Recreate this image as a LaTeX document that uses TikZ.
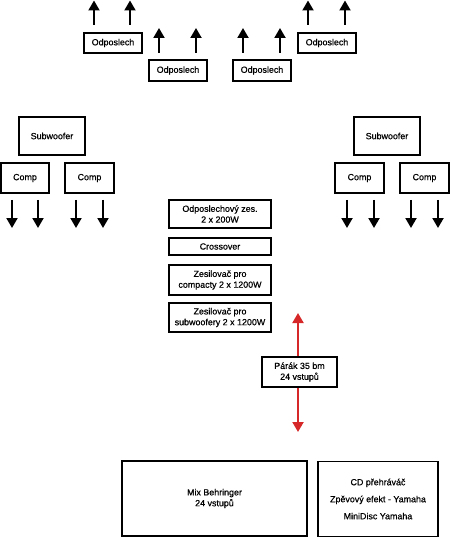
\documentclass[tikz,border=0pt]{standalone}
\usepackage{fontspec}
\setmainfont[FakeBold=0.6]{Liberation Sans}
\usetikzlibrary{arrows.meta}
\begin{document}
\begin{tikzpicture}[x=1pt,y=-1pt,
  box/.style={draw=black, line width=1.8pt, inner sep=0pt, align=center,
    font=\fontsize{8.9}{10.8}\selectfont},
  arr/.style={line width=2pt, -{Triangle[length=10pt,width=11pt]}},
  redarr/.style={draw={rgb,255:red,214;green,40;blue,40}, line width=2pt,
    -{Triangle[length=10pt,width=11pt]}}]
\useasboundingbox (0,0) rectangle (450,537);
% top monitors
\node[box, minimum width=58pt, minimum height=20pt] (o1) at (113,43) {Odposlech};
\node[box, minimum width=58pt, minimum height=21pt] (o2) at (178,70.5) {Odposlech};
\node[box, minimum width=58pt, minimum height=21pt] (o3) at (262,70.5) {Odposlech};
\node[box, minimum width=58pt, minimum height=20pt] (o4) at (327,43) {Odposlech};
\foreach \x in {94,130,308,345} \draw[arr] (\x,25) -- (\x,0.5);
\foreach \x in {159,196,243,280} \draw[arr] (\x,53) -- (\x,28);
% subwoofers
\node[box, minimum width=66pt, minimum height=38pt] (sl) at (52,136) {Subwoofer};
\node[box, minimum width=66pt, minimum height=38pt] (sr) at (387,136) {Subwoofer};
\node[box, minimum width=48pt, minimum height=30pt] (c1) at (25,178) {Comp};
\node[box, minimum width=49pt, minimum height=30pt] (c2) at (89.5,178) {Comp};
\node[box, minimum width=49pt, minimum height=30pt] (c3) at (359.5,178) {Comp};
\node[box, minimum width=49pt, minimum height=30pt] (c4) at (424.5,178) {Comp};
\foreach \x in {12,38,76,103,347,374,411,438} \draw[arr] (\x,200) -- (\x,228);
% amplifier rack
\node[box, minimum width=102pt, minimum height=28pt] (a1) at (220,214) {Odposlechový zes.\\2 x 200W};
\node[box, minimum width=102pt, minimum height=17pt] (a2) at (220,246.5) {Crossover};
\node[box, minimum width=102pt, minimum height=30pt] (a3) at (220,280) {Zesilovač pro\\compacty 2 x 1200W};
\node[box, minimum width=102pt, minimum height=29pt] (a4) at (220,317.5) {Zesilovač pro\\subwoofery 2 x 1200W};
% snake
\node[box, minimum width=75pt, minimum height=30pt] (p) at (299.5,372) {Párák 35 bm\\24 vstupů};
\coordinate (rtop) at (298,313);
\coordinate (rbot) at (298,432);
\draw[redarr] (p.north -| rtop) -- (rtop);
\draw[redarr] (p.south -| rbot) -- (rbot);
% mixer
\node[box, minimum width=185pt, minimum height=75pt] (mix) at (214.5,498.5) {Mix Behringer\\24 vstupů};
\node[box, minimum width=120pt, minimum height=75pt,
  font=\fontsize{8.9}{17}\selectfont] (fx) at (378,499) {CD přehráváč\\Zpěvový efekt - Yamaha\\MiniDisc Yamaha};
\end{tikzpicture}
\end{document}
